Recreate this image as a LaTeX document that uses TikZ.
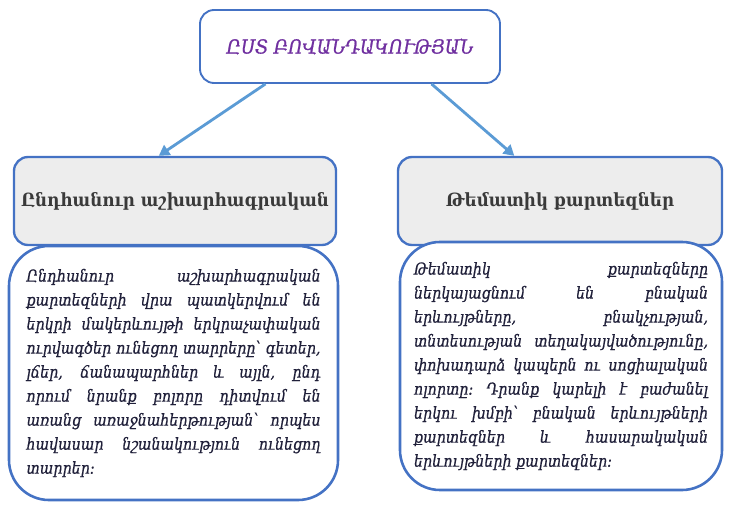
\documentclass[tikz,border=0pt]{standalone}
\usepackage{fontspec}
\setmainfont{DejaVu Serif}
\newfontfamily\armfont{DejaVu Serif}
\newfontfamily\armnarrow[FakeStretch=0.87, FakeBold=0.5]{DejaVu Serif}
\newfontfamily\armhead[FakeStretch=0.92]{DejaVu Serif}
\newfontfamily\armtitle[FakeStretch=0.92, FakeBold=0.8]{DejaVu Serif}
\usetikzlibrary{positioning,calc,arrows.meta}
\definecolor{boxline}{HTML}{4472C4}
\definecolor{linkblue}{HTML}{5B9BD5}
\definecolor{headfill}{HTML}{EDEDED}
\definecolor{titlepurple}{HTML}{7030A0}
\definecolor{headtext}{HTML}{3A3A3A}
\definecolor{bodytext}{HTML}{20203A}

\begin{document}
\begin{tikzpicture}[
    x=0.03cm, y=-0.03cm,
    topbox/.style={rectangle, rounded corners=12pt, draw=boxline, line width=1.6pt, fill=white, minimum width=9cm, minimum height=2.19cm, font=\armtitle\itshape\fontsize{16.5}{18}\selectfont, text=titlepurple},
    headbox/.style={rectangle, rounded corners=12pt, draw=boxline, line width=2pt, fill=headfill, minimum height=2.64cm, font=\armhead\bfseries\fontsize{15.5}{17}\selectfont, text=headtext},
    bodybox/.style={rectangle, rounded corners=1.2cm, draw=boxline, line width=2.2pt, fill=white, text width=8.82cm, align=justify, font=\armnarrow\itshape\fontsize{14}{20.5}\selectfont, text=bodytext},
    link/.style={line width=2.4pt, draw=linkblue, -{Triangle[length=9pt,width=10pt]}}
]
\useasboundingbox (0,0) rectangle (734,511);

% top box
\node (top) [topbox] at (350,46.5) {ԸՍՏ ԲՈՎԱՆԴԱԿՈՒԹՅԱՆ};

% headers
\node (gen) [headbox, minimum width=9.66cm] at (175,201) {Ընդհանուր աշխարհագրական};
\node (them) [headbox, minimum width=9.72cm] at (560,201) {Թեմատիկ քարտեզներ};

% bodies
\node (gentext) [bodybox, minimum width=9.87cm, minimum height=7.62cm] at (173.5,373) {%
Ընդհանուր աշխարհագրական\linebreak
քարտեզների վրա պատկերվում են\linebreak
երկրի մակերևույթի երկրաչափական\linebreak
ուրվագծեր ունեցող տարրերը՝ գետեր,\linebreak
լճեր, ճանապարհներ և այլն, ընդ\linebreak
որում նրանք բոլորը դիտվում են\linebreak
առանց առաջնահերթության՝ որպես\linebreak
հավասար նշանակություն ունեցող\linebreak
տարրեր։};
\node (themtext) [bodybox, minimum width=9.66cm, minimum height=7.44cm] at (561,366) {%
Թեմատիկ քարտեզները\linebreak
ներկայացնում են բնական\linebreak
երևույթները, բնակչության,\linebreak
տնտեսության տեղակայվածությունը,\linebreak
փոխադարձ կապերն ու սոցիալական\linebreak
ոլորտը։ Դրանք կարելի է բաժանել\linebreak
երկու խմբի՝ բնական երևույթների\linebreak
քարտեզներ և հասարակական\linebreak
երևույթների քարտեզներ։};

% arrows
\draw [link] ($(top.south west)!0.22!(top.south east)$) -- ($(gen.north west)!0.45!(gen.north east)$);
\draw [link] ($(top.south west)!0.77!(top.south east)$) -- ($(them.north west)!0.36!(them.north east)$);

\end{tikzpicture}
\end{document}
